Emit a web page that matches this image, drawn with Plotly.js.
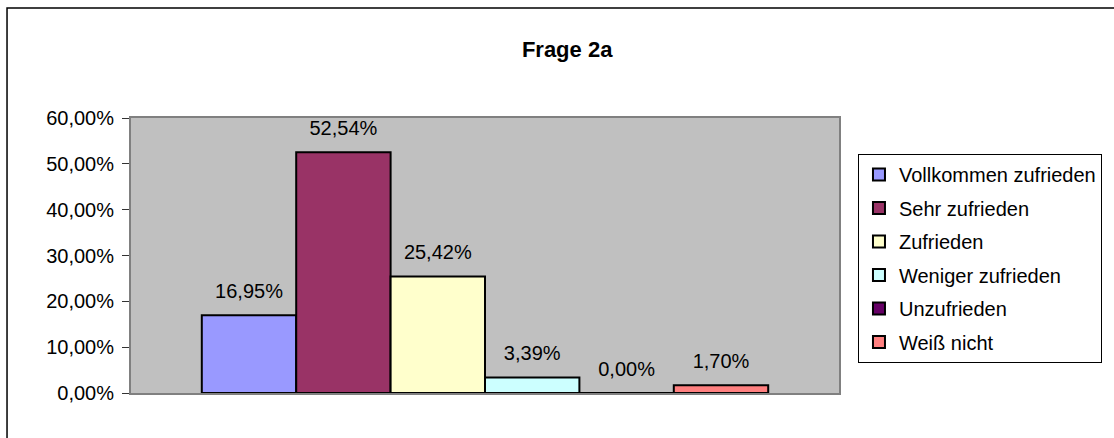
<!DOCTYPE html>
<html>
<head>
<meta charset="utf-8">
<script src="https://cdn.plot.ly/plotly-3.0.1.min.js"></script>
<style>
html,body{margin:0;padding:0;background:#fff;}
#chart{width:1114px;height:438px;}
</style>
</head>
<body>
<div id="chart"></div>
<script>
const category = [''];
const seriesNames = ['Vollkommen zufrieden','Sehr zufrieden','Zufrieden','Weniger zufrieden','Unzufrieden','Weiß nicht'];
const seriesValues = [0.1695, 0.5254, 0.2542, 0.0339, 0.0000, 0.0170];
const seriesColors = ['#9999FF','#993366','#FFFFCC','#CCFFFF','#660066','#FF8080'];
const yTickValues = [0, 0.1, 0.2, 0.3, 0.4, 0.5, 0.6];

const FONT = 'Liberation Sans, Arial, sans-serif';
const FS = 20;
const traces = [];
seriesNames.forEach((name, i) => {
  traces.push({
    type: 'bar', name: name, x: category, y: [seriesValues[i]],
    offsetgroup: name, legendgroup: name,
    marker: {color: seriesColors[i], line: {color: '#000', width: 2}},
    hoverinfo: 'skip'
  });
});
seriesNames.forEach((name, i) => {
  traces.push({
    type: 'scatter', mode: 'markers+text', x: category, y: [seriesValues[i]],
    offsetgroup: name, legendgroup: name, showlegend: false,
    marker: {size: 18, opacity: 0},
    text: [(seriesValues[i]*100).toFixed(2).replace('.', ',') + '%'],
    textposition: 'top center', cliponaxis: false,
    textfont: {family: FONT, size: FS, color: '#000'},
    hoverinfo: 'skip'
  });
});

const layout = {
  width: 1114, height: 438,
  margin: {l: 131, r: 275, t: 118, b: 45},
  paper_bgcolor: '#fff', plot_bgcolor: '#C0C0C0',
  separators: ',.',
  barmode: 'group', bargap: 0.2, bargroupgap: 0,
  scattermode: 'group', scattergap: 0.2,
  font: {family: FONT, size: FS, color: '#000'},
  title: {text: '<b>Frage 2a</b>', x: 0.616, xref: 'paper', xanchor: 'center',
          y: 0.888, yref: 'container', yanchor: 'middle',
          font: {family: FONT, size: 22, color: '#000'}},
  xaxis: {type: 'category', showticklabels: false, ticks: '', showgrid: false,
          showline: true, linecolor: '#808080', linewidth: 2, mirror: true, fixedrange: true},
  yaxis: {range: [0, 0.6], tickvals: yTickValues, tickformat: '.2%', showgrid: false,
          ticks: 'outside', ticklen: 7, tickcolor: '#333', tickwidth: 1, ticklabelstandoff: 4,
          showline: true, linecolor: '#808080', linewidth: 2, mirror: true, zeroline: false,
          tickfont: {family: FONT, size: FS, color: '#000'}, fixedrange: true},
  showlegend: true,
  legend: {x: 1.0268, y: 0.869, xanchor: 'left', yanchor: 'top',
           bgcolor: '#fff', bordercolor: '#000', borderwidth: 1,
           font: {family: FONT, size: FS, color: '#000'},
           traceorder: 'grouped', tracegroupgap: 4.5, itemwidth: 30},
  shapes: [{type: 'rect', xref: 'paper', yref: 'paper', x0: -0.1751, x1: 1.40, y0: -0.19, y1: 1.40,
            line: {color: '#000', width: 1.5}, fillcolor: 'rgba(0,0,0,0)', layer: 'below'}]
};

Plotly.newPlot('chart', traces, layout, {displayModeBar: false, staticPlot: true});
</script>
</body>
</html>
